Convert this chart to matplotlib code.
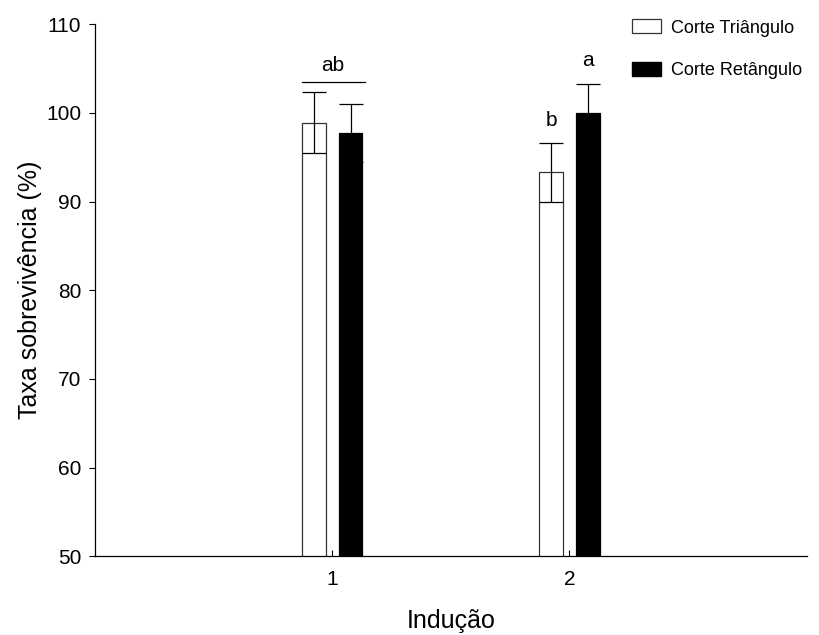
import matplotlib
matplotlib.use("Agg")
import matplotlib.pyplot as plt
import numpy as np
from matplotlib.patches import Patch

plt.rcParams['font.family'] = ['Liberation Sans', 'DejaVu Sans']

inducao = [1, 2]
triangulo = [98.9, 93.3]
triangulo_err = [3.4, 3.3]
retangulo = [97.7, 100.0]
retangulo_err = [3.3, 3.3]
letras_tri = ['', 'b']
letras_ret = ['', 'a']
letra_grupo1 = 'ab'

fig = plt.figure(figsize=(8.19, 6.35), dpi=100)
ax = fig.add_axes([0.116, 0.124, 0.869, 0.838])

x = np.array(inducao, dtype=float)
w = 0.1
off = 0.077
ax.bar(x - off, triangulo, w, color='white', edgecolor='#333333', linewidth=0.9)
ax.bar(x + off, retangulo, w, color='black', edgecolor='black', linewidth=0.9)
ax.errorbar(x - off, triangulo, yerr=triangulo_err, fmt='none', ecolor='black',
            elinewidth=0.9, capsize=8.4, capthick=0.9)
ax.errorbar(x + off, retangulo, yerr=retangulo_err, fmt='none', ecolor='black',
            elinewidth=0.9, capsize=8.4, capthick=0.9)

# letras de significancia
for xi, v, e, t in zip(x - off, triangulo, triangulo_err, letras_tri):
    if t:
        ax.text(xi, v + e + 1.5, t, ha='center', va='bottom', fontsize=15)
for xi, v, e, t in zip(x + off, retangulo, retangulo_err, letras_ret):
    if t:
        ax.text(xi, v + e + 1.5, t, ha='center', va='bottom', fontsize=15)
top1 = max(triangulo[0] + triangulo_err[0], retangulo[0] + retangulo_err[0]) + 1.2
ax.plot([x[0] - off - w / 2, x[0] + off + w / 2 + 0.012], [top1, top1], color='black', lw=0.9)
ax.text(x[0], top1 + 0.8, letra_grupo1, ha='center', va='bottom', fontsize=15)

ax.set_xlim(0, 3)
ax.set_ylim(50, 110)
ax.set_xticks(inducao)
ax.set_yticks(np.arange(50, 111, 10))
ax.tick_params(axis='x', direction='in', length=4, labelsize=15, pad=10)
ax.tick_params(axis='y', direction='out', length=4, labelsize=15, pad=6)
ax.spines['top'].set_visible(False)
ax.spines['right'].set_visible(False)
for s in ['left', 'bottom']:
    ax.spines[s].set_linewidth(0.9)

ax.set_xlabel('Indução', fontsize=18, labelpad=14)
ax.set_ylabel('Taxa sobrevivência (%)', fontsize=18, labelpad=3)

handles = [Patch(facecolor='white', edgecolor='#333333', linewidth=0.9),
           Patch(facecolor='black', edgecolor='black')]
fig.legend(handles, ['Corte Triângulo', 'Corte Retângulo'], loc='upper left',
           bbox_to_anchor=(0.752, 0.995), frameon=False, fontsize=13,
           handlelength=1.6, handleheight=0.8, labelspacing=1.4, handletextpad=0.55)

fig.savefig('out.png', dpi=100)
